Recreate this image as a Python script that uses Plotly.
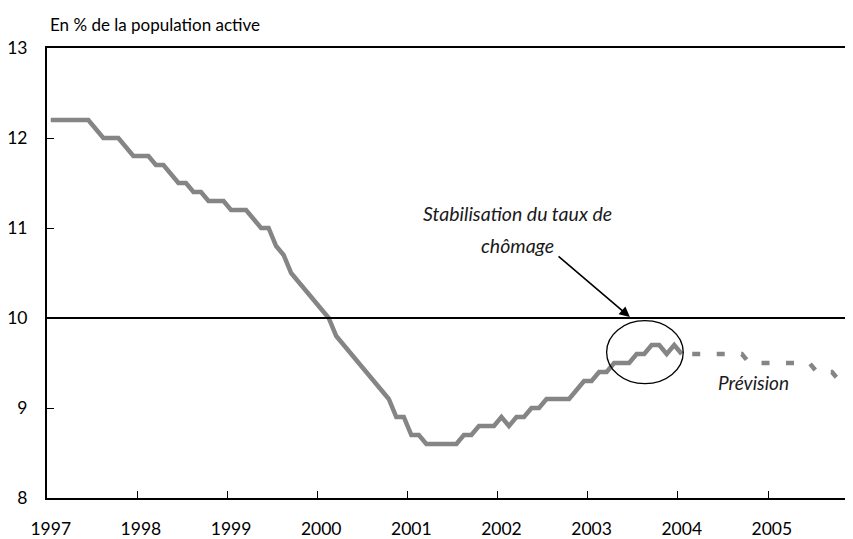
import plotly.graph_objects as go

# Taux de chômage mensuel (en % de la population active), janv. 1997 -> janv. 2004
observe = [12.2, 12.2, 12.2, 12.2, 12.2, 12.2, 12.1, 12.0, 12.0, 12.0,
           11.9, 11.8, 11.8, 11.8, 11.7, 11.7, 11.6, 11.5, 11.5, 11.4,
           11.4, 11.3, 11.3, 11.3, 11.2, 11.2, 11.2, 11.1, 11.0, 11.0,
           10.8, 10.7, 10.5, 10.4, 10.3, 10.2, 10.1, 10.0, 9.8, 9.7,
           9.6, 9.5, 9.4, 9.3, 9.2, 9.1, 8.9, 8.9, 8.7, 8.7,
           8.6, 8.6, 8.6, 8.6, 8.6, 8.7, 8.7, 8.8, 8.8, 8.8,
           8.9, 8.8, 8.9, 8.9, 9.0, 9.0, 9.1, 9.1, 9.1, 9.1,
           9.2, 9.3, 9.3, 9.4, 9.4, 9.5, 9.5, 9.5, 9.6, 9.6,
           9.7, 9.7, 9.6, 9.7, 9.6]

# Prévision, janv. 2004 -> oct. 2005
prevision = [9.6, 9.6, 9.6, 9.6, 9.6, 9.6, 9.6, 9.6, 9.6,
             9.5, 9.5, 9.5, 9.5, 9.5, 9.5, 9.5, 9.5, 9.5,
             9.4, 9.4, 9.4, 9.3]

annees = ['1997', '1998', '1999', '2000', '2001', '2002', '2003', '2004', '2005']

x_obs = list(range(len(observe)))
x_prev = list(range(len(observe) - 1, len(observe) - 1 + len(prevision)))

police = "Lato"
gris = "#858585"

# la page html ajoute une marge de 8 px autour du graphique
W, H = 845, 531

fig = go.Figure()

fig.add_trace(go.Scatter(x=x_obs, y=observe, mode='lines',
                         line=dict(color=gris, width=4.5), showlegend=False))
fig.add_trace(go.Scatter(x=x_prev, y=prevision, mode='lines',
                         line=dict(color=gris, width=4.5, dash='0px,10.5px,8px,6px'),
                         showlegend=False))

# Ligne à 10 %
fig.add_hline(y=10, line=dict(color='black', width=2))

# Ellipse autour de la stabilisation
fig.add_shape(type='circle', xref='x', yref='y', x0=74.0, x1=84.2, y0=9.27, y1=9.97,
              line=dict(color='black', width=1.3))

# Flèche
fig.add_annotation(x=77.1, y=10.01, ax=67.4, ay=10.70, xref='x', yref='y',
                   axref='x', ayref='y', text='', showarrow=True,
                   arrowhead=2, arrowsize=1.3, arrowwidth=1.6, arrowcolor='black')

texte = dict(family=police, size=19.5, color='#1a1a1a', style='italic')
fig.add_annotation(x=62.1, y=11.16, text='Stabilisation du taux de', showarrow=False,
                   font=texte, xanchor='center', yanchor='middle')
fig.add_annotation(x=62.1, y=10.81, text='chômage', showarrow=False,
                   font=texte, xanchor='center', yanchor='middle')
fig.add_annotation(x=93.6, y=9.28, text='Prévision', showarrow=False,
                   font=dict(texte, size=19), xanchor='center', yanchor='middle')

fig.update_layout(
    width=W, height=H,
    margin=dict(l=39, r=0, t=40, b=41),
    plot_bgcolor='white', paper_bgcolor='white',
    font=dict(family=police, size=17.5, color='black'),
    title=dict(text='En % de la population active', x=42 / W, xanchor='left',
               y=1 - 17 / H, yanchor='middle', font=dict(size=17)),
    showlegend=False,
    xaxis=dict(range=[-0.5, 106.8], tickmode='array',
               tickvals=[12 * k for k in range(len(annees))], ticktext=annees,
               ticks='', showgrid=False, zeroline=False, automargin=False,
               showline=True, linecolor='black', linewidth=2, mirror=True,
               ticklabelstandoff=14,
               minor=dict(tickmode='array',
                          tickvals=[12 * k + 11.5 for k in range(len(annees) - 1)],
                          ticks='inside', ticklen=7, tickcolor='black', tickwidth=1,
                          showgrid=False)),
    yaxis=dict(range=[8, 13], tickvals=[8, 9, 10, 11, 12, 13],
               ticks='inside', ticklen=7, tickcolor='black', tickwidth=1,
               showgrid=False, zeroline=False, automargin=False,
               showline=True, linecolor='black', linewidth=2,
               ticklabelstandoff=14),
)

fig.write_html("out.html")
